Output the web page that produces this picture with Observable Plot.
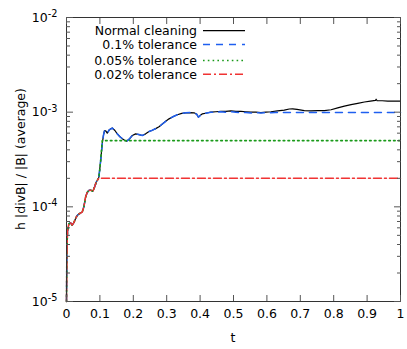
<!DOCTYPE html>
<html><head><meta charset="utf-8">
<script src="https://cdn.jsdelivr.net/npm/d3@7"></script>
<script src="https://cdn.jsdelivr.net/npm/@observablehq/plot@0.6"></script>
<style>body{margin:0;background:#fff;} svg{font-family:"DejaVu Sans";}</style>
</head><body><div id="chart"></div>
<script>
// ---- data ----
const seriesNames = ["Normal cleaning", "0.1% tolerance", "0.05% tolerance", "0.02% tolerance"];
const seriesColors = ["#000000", "#1f5ff0", "#1a9a1a", "#f03333"];
const seriesDash = [null, "7,6", "1.6,3.2", "8,3,2,3"];
const seriesWidth = [1.2, 1.5, 1.6, 1.5];

const tNormal = [0, 0.001, 0.003, 0.007, 0.012, 0.017, 0.022, 0.027, 0.032, 0.037, 0.042, 0.047, 0.052, 0.057, 0.062, 0.067, 0.072, 0.079, 0.084, 0.089, 0.094, 0.097, 0.102, 0.107, 0.111, 0.114, 0.118, 0.122, 0.128, 0.137, 0.145, 0.152, 0.160, 0.167, 0.174, 0.180, 0.188, 0.197, 0.207, 0.217, 0.227, 0.237, 0.247, 0.257, 0.267, 0.277, 0.287, 0.297, 0.307, 0.320, 0.332, 0.345, 0.357, 0.370, 0.382, 0.390, 0.395, 0.400, 0.407, 0.420, 0.432, 0.447, 0.462, 0.477, 0.492, 0.507, 0.522, 0.537, 0.552, 0.567, 0.582, 0.597, 0.612, 0.632, 0.652, 0.667, 0.677, 0.690, 0.712, 0.732, 0.752, 0.772, 0.792, 0.812, 0.832, 0.852, 0.872, 0.892, 0.910, 0.925, 0.927, 0.930, 0.945, 0.962, 0.980, 1.0];
const normal = [1e-5, 3.0e-5, 5.5e-5, 6.6e-5, 6.8e-5, 6.4e-5, 6.8e-5, 7.5e-5, 8.1e-5, 8.4e-5, 8.6e-5, 8.8e-5, 1.0e-4, 1.26e-4, 1.42e-4, 1.49e-4, 1.5e-4, 1.46e-4, 1.62e-4, 1.82e-4, 1.95e-4, 2.06e-4, 3.0e-4, 4.63e-4, 5.8e-4, 6.4e-4, 6.3e-4, 6.0e-4, 6.5e-4, 6.8e-4, 6.4e-4, 5.9e-4, 5.5e-4, 5.25e-4, 5.05e-4, 4.94e-4, 5.2e-4, 5.67e-4, 5.9e-4, 5.8e-4, 5.67e-4, 5.9e-4, 6.25e-4, 6.45e-4, 6.7e-4, 7.0e-4, 7.5e-4, 8.0e-4, 8.5e-4, 9.0e-4, 9.4e-4, 9.7e-4, 9.84e-4, 9.9e-4, 9.84e-4, 9.5e-4, 8.85e-4, 9.2e-4, 9.6e-4, 9.8e-4, 1.0e-3, 1.01e-3, 1.02e-3, 1.02e-3, 1.03e-3, 1.02e-3, 1.02e-3, 1.01e-3, 1.0e-3, 1.0e-3, 0.99e-3, 1.0e-3, 1.01e-3, 1.03e-3, 1.05e-3, 1.08e-3, 1.085e-3, 1.07e-3, 1.04e-3, 1.03e-3, 1.04e-3, 1.04e-3, 1.06e-3, 1.11e-3, 1.16e-3, 1.2e-3, 1.24e-3, 1.28e-3, 1.31e-3, 1.33e-3, 1.37e-3, 1.32e-3, 1.32e-3, 1.31e-3, 1.31e-3, 1.31e-3];

const tTol01 = [0, 0.001, 0.003, 0.007, 0.012, 0.017, 0.022, 0.027, 0.032, 0.037, 0.042, 0.047, 0.052, 0.057, 0.062, 0.067, 0.072, 0.079, 0.084, 0.089, 0.094, 0.097, 0.102, 0.107, 0.111, 0.114, 0.118, 0.122, 0.128, 0.137, 0.145, 0.152, 0.160, 0.167, 0.174, 0.180, 0.188, 0.197, 0.207, 0.217, 0.227, 0.237, 0.247, 0.257, 0.267, 0.277, 0.287, 0.297, 0.307, 0.320, 0.332, 0.345, 0.357, 0.370, 0.382, 0.390, 0.395, 0.400, 0.407, 0.420, 0.432, 0.447, 0.462, 0.477, 0.492, 0.507, 0.522, 0.537, 0.552, 0.567, 0.582, 0.597, 0.612, 0.625, 1.0];
const tol01 = [1e-5, 3.0e-5, 5.5e-5, 6.6e-5, 6.8e-5, 6.4e-5, 6.8e-5, 7.5e-5, 8.1e-5, 8.4e-5, 8.6e-5, 8.8e-5, 1.0e-4, 1.26e-4, 1.42e-4, 1.49e-4, 1.5e-4, 1.46e-4, 1.62e-4, 1.82e-4, 1.95e-4, 2.06e-4, 3.0e-4, 4.63e-4, 5.8e-4, 6.4e-4, 6.3e-4, 6.0e-4, 6.5e-4, 6.8e-4, 6.4e-4, 5.9e-4, 5.5e-4, 5.25e-4, 5.05e-4, 4.94e-4, 5.2e-4, 5.67e-4, 5.9e-4, 5.8e-4, 5.67e-4, 5.9e-4, 6.25e-4, 6.45e-4, 6.7e-4, 7.0e-4, 7.5e-4, 8.0e-4, 8.5e-4, 9.0e-4, 9.4e-4, 9.7e-4, 9.84e-4, 9.9e-4, 9.84e-4, 9.5e-4, 8.85e-4, 9.2e-4, 9.6e-4, 9.8e-4, 1.0e-3, 1.0e-3, 1.01e-3, 1.0e-3, 1.01e-3, 1.0e-3, 0.99e-3, 0.99e-3, 0.98e-3, 0.99e-3, 0.98e-3, 0.99e-3, 0.985e-3, 0.99e-3, 0.99e-3];

const tTol005 = [0, 0.001, 0.003, 0.007, 0.012, 0.017, 0.022, 0.027, 0.032, 0.037, 0.042, 0.047, 0.052, 0.057, 0.062, 0.067, 0.072, 0.079, 0.084, 0.089, 0.094, 0.097, 0.102, 0.107, 1.0];
const tol005 = [1e-5, 3.0e-5, 5.5e-5, 6.6e-5, 6.8e-5, 6.4e-5, 6.8e-5, 7.5e-5, 8.1e-5, 8.4e-5, 8.6e-5, 8.8e-5, 1.0e-4, 1.26e-4, 1.42e-4, 1.49e-4, 1.5e-4, 1.46e-4, 1.62e-4, 1.82e-4, 1.95e-4, 2.06e-4, 3.0e-4, 5.0e-4, 5.0e-4];

const tTol002 = [0, 0.001, 0.003, 0.007, 0.012, 0.017, 0.022, 0.027, 0.032, 0.037, 0.042, 0.047, 0.052, 0.057, 0.062, 0.067, 0.072, 0.079, 0.084, 0.089, 0.094, 0.097, 1.0];
const tol002 = [1e-5, 3.0e-5, 5.5e-5, 6.6e-5, 6.8e-5, 6.4e-5, 6.8e-5, 7.5e-5, 8.1e-5, 8.4e-5, 8.6e-5, 8.8e-5, 1.0e-4, 1.26e-4, 1.42e-4, 1.49e-4, 1.5e-4, 1.46e-4, 1.62e-4, 1.82e-4, 1.95e-4, 2.0e-4, 2.0e-4];

const xTicks = [0, 0.1, 0.2, 0.3, 0.4, 0.5, 0.6, 0.7, 0.8, 0.9, 1];
const xTickLabels = ["0", "0.1", "0.2", "0.3", "0.4", "0.5", "0.6", "0.7", "0.8", "0.9", "1"];
const yTicks = [1e-5, 1e-4, 1e-3, 1e-2];
const yTickLabels = ["10^-5", "10^-4", "10^-3", "10^-2"];
const yMinor = [2e-5,3e-5,4e-5,5e-5,6e-5,7e-5,8e-5,9e-5, 2e-4,3e-4,4e-4,5e-4,6e-4,7e-4,8e-4,9e-4, 2e-3,3e-3,4e-3,5e-3,6e-3,7e-3,8e-3,9e-3];
const xLabel = "t";
const yLabel = "h |divB| / |B| (average)";

// ---- build ----
const FS = 12.5;
const tArrays = [tNormal, tTol01, tTol005, tTol002];
const vArrays = [normal, tol01, tol005, tol002];
const lines = seriesNames.map((name, i) => Plot.line(
  tArrays[i].map((t, j) => ({t, v: vArrays[i][j]})),
  {x: "t", y: "v", stroke: seriesColors[i], strokeWidth: seriesWidth[i], strokeDasharray: seriesDash[i] || undefined}
));

const tickColor = "#555";
const plot = Plot.plot({
  width: 407, height: 349,
  marginLeft: 66, marginRight: 7, marginTop: 17, marginBottom: 48,
  style: {fontFamily: "DejaVu Sans", fontSize: FS + "px", background: "white", color: "black"},
  x: {domain: [0, 1]},
  y: {type: "log", domain: [1e-5, 1e-2]},
  marks: [
    ...lines,
    Plot.frame({stroke: "#333", strokeWidth: 1}),
    Plot.axisX(xTicks, {anchor: "bottom", tickSize: -6, tickFormat: () => "", label: null, stroke: tickColor}),
    Plot.axisX(xTicks, {anchor: "top", tickSize: -6, tickFormat: () => "", label: null, stroke: tickColor}),
    Plot.axisX(xTicks, {anchor: "bottom", tickSize: 0, tickPadding: 8, tickFormat: d => xTickLabels[xTicks.indexOf(d)], label: null}),
    Plot.axisY(yTicks, {anchor: "left", tickSize: -7, tickFormat: () => "", label: null, stroke: tickColor}),
    Plot.axisY(yTicks, {anchor: "right", tickSize: -7, tickFormat: () => "", label: null, stroke: tickColor}),
    Plot.axisY(yMinor, {anchor: "left", tickSize: -4, tickFormat: () => "", label: null, stroke: tickColor}),
    Plot.axisY(yMinor, {anchor: "right", tickSize: -4, tickFormat: () => "", label: null, stroke: tickColor}),
    Plot.axisY(yTicks, {anchor: "left", tickSize: 0, tickPadding: 9, tickFormat: d => yTickLabels[yTicks.indexOf(d)], label: null})
  ]
});
document.getElementById("chart").appendChild(plot);

const svg = d3.select(plot);
// superscripts on y tick labels
svg.selectAll('g[aria-label="y-axis tick label"] text').each(function () {
  const s = this.textContent;
  if (s.indexOf("^") >= 0) {
    const [b, e] = s.split("^");
    this.textContent = b;
    d3.select(this).append("tspan").attr("dy", "-0.45em").attr("font-size", "0.78em").text(e);
  }
});
// axis titles
svg.append("text").attr("x", 233).attr("y", 338).attr("text-anchor", "middle").attr("dy", "0.35em")
  .attr("font-size", FS).attr("fill", "black").text(xLabel);
svg.append("text").attr("transform", "translate(21,159) rotate(-90)").attr("text-anchor", "middle").attr("dy", "0.35em")
  .attr("font-size", FS).attr("fill", "black").text(yLabel);
// legend
const legY = [30.7, 44.5, 60.5, 74.3];
const lg = svg.append("g");
seriesNames.forEach((name, i) => {
  lg.append("text").attr("x", 197).attr("y", legY[i]).attr("dy", "0.35em").attr("text-anchor", "end")
    .attr("font-size", FS).attr("fill", "black").text(name);
  lg.append("line").attr("x1", 203).attr("x2", 245).attr("y1", legY[i]).attr("y2", legY[i])
    .attr("stroke", seriesColors[i]).attr("stroke-width", seriesWidth[i])
    .attr("stroke-dasharray", seriesDash[i]);
});
</script></body></html>
